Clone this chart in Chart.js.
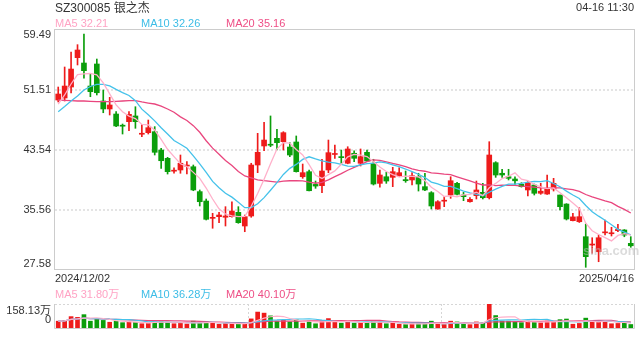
<!DOCTYPE html>
<html><head><meta charset="utf-8">
<script src="https://cdn.jsdelivr.net/npm/chart.js@4.4.0/dist/chart.umd.min.js"></script>
<style>
html,body{margin:0;padding:0;background:#fff;width:640px;height:360px;overflow:hidden;font-family:"Liberation Sans",Arial,"Noto Sans CJK SC",sans-serif;}
#wrap{position:relative;width:640px;height:360px;}
canvas{position:absolute;left:0;top:0;}
.t{position:absolute;white-space:nowrap;font-size:11px;line-height:11px;}
</style></head><body>
<div id="wrap">
<canvas id="main" width="640" height="360" style="width:640px;height:360px"></canvas>
<canvas id="vol" width="640" height="360" style="width:640px;height:360px"></canvas>
<div class="t" style="left:55px;top:2px;font-size:12px;line-height:12px;color:#333;font-family:'Liberation Sans','Noto Sans CJK SC',sans-serif">SZ300085 银之杰</div>
<div class="t" style="right:6px;top:2px;color:#333">04-16 11:30</div>
<div class="t" id="p5" style="left:55px;top:18px;color:#ffa3c4"></div>
<div class="t" id="p10" style="left:141px;top:18px;color:#3dbde6"></div>
<div class="t" id="p20" style="left:226px;top:18px;color:#ee4f86"></div>
<div class="t" id="v5" style="left:55px;top:289px;color:#ffa3c4;font-family:'Liberation Sans','Noto Sans CJK SC',sans-serif"></div>
<div class="t" id="v10" style="left:141px;top:289px;color:#3dbde6;font-family:'Liberation Sans','Noto Sans CJK SC',sans-serif"></div>
<div class="t" id="v20" style="left:226px;top:289px;color:#ee4f86;font-family:'Liberation Sans','Noto Sans CJK SC',sans-serif"></div>
<div class="t" style="left:583px;top:244px;font-size:13px;line-height:13px;font-weight:bold;color:rgba(190,190,190,0.55)">sina.com</div>
</div>
<script>
const dates = [
"2024/12/02","2024/12/03","2024/12/04","2024/12/05","2024/12/06","2024/12/09","2024/12/10","2024/12/11","2024/12/12","2024/12/13",
"2024/12/16","2024/12/17","2024/12/18","2024/12/19","2024/12/20","2024/12/23","2024/12/24","2024/12/25","2024/12/26","2024/12/27",
"2024/12/30","2024/12/31","2025/01/02","2025/01/03","2025/01/06","2025/01/07","2025/01/08","2025/01/09","2025/01/10","2025/01/13",
"2025/01/14","2025/01/15","2025/01/16","2025/01/17","2025/01/20","2025/01/21","2025/01/22","2025/01/23","2025/01/24","2025/01/27",
"2025/02/05","2025/02/06","2025/02/07","2025/02/10","2025/02/11","2025/02/12","2025/02/13","2025/02/14","2025/02/17","2025/02/18",
"2025/02/19","2025/02/20","2025/02/21","2025/02/24","2025/02/25","2025/02/26","2025/02/27","2025/02/28","2025/03/03","2025/03/04",
"2025/03/05","2025/03/06","2025/03/07","2025/03/10","2025/03/11","2025/03/12","2025/03/13","2025/03/14","2025/03/17","2025/03/18",
"2025/03/19","2025/03/20","2025/03/21","2025/03/24","2025/03/25","2025/03/26","2025/03/27","2025/03/28","2025/03/31","2025/04/01",
"2025/04/02","2025/04/03","2025/04/07","2025/04/08","2025/04/09","2025/04/10","2025/04/11","2025/04/14","2025/04/15","2025/04/16"];

const opens = [50.18,50.45,51.91,55.81,55.10,52.04,54.97,50.05,48.99,48.32,
46.78,47.30,48.06,45.63,45.84,45.97,43.53,42.43,40.72,40.88,
41.40,41.31,38.00,36.75,34.45,34.67,34.59,34.67,35.25,33.43,
34.76,41.54,44.07,44.21,45.09,44.64,43.93,44.60,39.98,40.65,
38.96,38.79,40.88,42.94,42.58,41.77,43.10,41.77,43.23,41.77,
39.10,39.98,39.90,40.12,39.60,39.55,39.98,38.66,37.86,35.69,
36.73,37.55,39.10,37.55,36.66,37.46,37.91,37.19,41.85,40.44,
39.98,39.68,38.97,38.22,38.88,37.78,37.68,38.35,37.55,36.35,
34.14,34.00,32.01,30.90,30.01,32.52,32.40,32.81,32.90,31.13];

const highs = [51.91,54.57,56.57,57.54,58.96,53.73,55.63,51.51,50.54,48.63,
46.99,48.63,49.29,46.95,47.52,46.64,43.76,42.56,41.18,42.87,
41.98,41.54,38.22,37.02,35.12,35.25,36.00,36.66,36.00,34.89,
41.77,45.75,47.22,48.06,46.29,45.97,44.51,45.40,41.67,40.88,
39.41,42.30,44.86,44.20,43.53,43.97,43.44,43.67,43.53,42.30,
40.88,40.57,41.23,41.18,40.74,40.52,40.44,40.44,38.00,36.80,
37.33,39.98,39.24,37.90,37.20,39.41,39.10,44.64,41.98,40.97,
40.97,39.98,39.19,39.32,39.01,39.10,40.21,39.77,37.55,36.40,
35.12,35.86,33.70,31.87,32.23,34.23,33.26,33.66,32.95,32.01];

const lows = [49.92,50.05,51.11,54.84,53.07,50.62,50.85,48.49,48.19,46.64,
45.66,46.10,46.42,45.30,45.66,42.87,41.10,40.34,40.44,40.44,
40.34,38.12,36.09,34.23,33.13,33.87,33.43,34.59,33.79,32.67,
34.59,40.52,43.44,43.97,43.53,43.53,42.65,40.60,39.77,38.10,
38.44,37.86,40.52,42.43,41.77,41.70,41.98,41.41,41.98,38.88,
38.58,39.10,38.66,39.98,39.24,38.88,38.08,38.12,35.69,35.65,
36.00,37.11,37.55,36.80,36.60,37.02,37.02,37.02,39.90,39.90,
39.55,38.96,38.60,37.42,37.55,37.64,37.64,38.08,35.56,34.23,
34.10,33.90,27.94,29.80,28.68,32.23,32.10,32.67,32.00,30.60];

const closes = [50.98,52.04,54.30,56.83,54.08,51.29,51.15,48.99,49.52,46.73,
46.70,48.28,47.30,45.65,46.50,43.23,42.11,40.65,40.74,41.77,
41.43,38.22,36.66,34.32,34.48,34.89,34.76,35.42,33.87,34.67,
41.54,43.23,44.86,44.17,44.51,45.84,42.87,40.65,40.52,38.12,
38.74,40.74,43.18,42.98,42.52,43.67,42.43,42.65,42.07,39.01,
40.21,39.41,40.65,40.52,39.45,40.12,39.01,38.22,36.09,36.66,
36.77,39.45,37.64,37.33,36.98,38.22,37.19,42.87,40.21,40.21,
39.77,39.44,38.66,39.19,37.78,38.06,38.35,39.10,36.00,34.36,
34.64,34.67,29.35,30.98,31.87,32.59,32.45,32.98,32.23,30.80];

// volume in 万
const volumes = [45,50,75,70,88,45,60,50,38,45,
35,40,38,28,30,50,45,40,28,30,
26,45,38,40,32,25,30,28,32,28,
60,105,98,80,45,50,40,55,32,45,
28,45,62,40,32,45,32,35,38,50,
38,28,32,25,22,28,30,28,45,28,
22,45,40,25,22,40,36,158.13,82,45,
45,40,35,45,40,35,45,40,55,59.2,
25,30,65,38.8,45,45,28,30,33,23];

// moving-average values before a full window is available
const ma5Head = [49.65,50.85,52.31,53.55];
const ma10Head = [48.63,49.32,50.05,50.71,51.51,51.98,52.27,52.25,52.05];
const ma20Head = [50.18,50.14,50.09,50.05,50.05,50.01,49.96,49.96,49.96,50.01,50.05,50.09,50.09,49.92,49.78,49.65,49.38,48.99,48.55];

const yTicks = [59.49,51.51,43.54,35.56,27.58];

const RED = '#ee1b1b', GREEN = '#0b9e0b';
const C5 = '#ffb0ca', C10 = '#45c2ea', C20 = '#e9467e';

function movingAvg(n, head){
  return closes.map((_, i) => {
    if (i < n - 1) return head[i];
    let s = 0; for (let k = i - n + 1; k <= i; k++) s += closes[k];
    return s / n;
  });
}
function volAvg(n){
  return volumes.map((_, i) => {
    const st = Math.max(0, i - n + 1); let s = 0;
    for (let k = st; k <= i; k++) s += volumes[k];
    return s / (i - st + 1);
  });
}
const ma5 = movingAvg(5, ma5Head), ma10 = movingAvg(10, ma10Head), ma20 = movingAvg(20, ma20Head);
const vma5 = volAvg(5), vma10 = volAvg(10), vma20 = volAvg(20);

const colors = closes.map((c, i) => c >= opens[i] ? RED : GREEN);
const wicks = lows.map((l, i) => [l, highs[i]]);
const bodies = opens.map((o, i) => [o, closes[i]]);

const last = a => a[a.length - 1];
document.getElementById('p5').textContent = 'MA5 ' + last(ma5).toFixed(2);
document.getElementById('p10').textContent = 'MA10 ' + last(ma10).toFixed(2);
document.getElementById('p20').textContent = 'MA20 ' + last(ma20).toFixed(2);
document.getElementById('v5').textContent = 'MA5 ' + last(vma5).toFixed(2) + '万';
document.getElementById('v10').textContent = 'MA10 ' + last(vma10).toFixed(2) + '万';
document.getElementById('v20').textContent = 'MA20 ' + last(vma20).toFixed(2) + '万';

Chart.defaults.font.family = '"Liberation Sans", Arial, sans-serif';
Chart.defaults.font.size = 11;

const FONT = '11px "Liberation Sans", Arial, "Noto Sans CJK SC", sans-serif';

const mainDeco = {
  id: 'mainDeco',
  beforeDatasetsDraw(chart){
    const {ctx, chartArea: a, scales: {y}} = chart;
    ctx.save();
    ctx.strokeStyle = '#e4e4e4'; ctx.lineWidth = 2; ctx.setLineDash([2, 2]);
    yTicks.slice(1, -1).forEach(v => {
      const py = Math.round(y.getPixelForValue(v));
      ctx.beginPath(); ctx.moveTo(a.left, py); ctx.lineTo(a.right, py); ctx.stroke();
    });
    ctx.restore();
  },
  afterDraw(chart){
    const {ctx, chartArea: a, scales: {x, y}} = chart;
    ctx.save();
    ctx.strokeStyle = '#cccccc'; ctx.lineWidth = 1;
    ctx.strokeRect(a.left - 0.5, a.top - 0.5, a.right - a.left + 1, a.bottom - a.top);
    ctx.fillStyle = '#333'; ctx.font = FONT;
    ctx.textAlign = 'right'; ctx.textBaseline = 'middle';
    yTicks.forEach(v => {
      let py = y.getPixelForValue(v);
      py = Math.min(a.bottom - 6.5, Math.max(a.top + 5, py));
      ctx.fillText(v.toFixed(2), 51, py);
    });
    const labs = x.getLabels();
    ctx.textAlign = 'left'; ctx.fillText(labs[0], a.left, 278.5);
    ctx.textAlign = 'right'; ctx.fillText(labs[labs.length - 1], a.right, 278.5);
    ctx.restore();
  }
};

new Chart(document.getElementById('main'), {
  type: 'bar',
  data: {
    labels: dates,
    datasets: [
      {type: 'line', data: ma5, borderColor: C5, borderWidth: 1.3, pointRadius: 0, tension: 0, order: 0},
      {type: 'line', data: ma10, borderColor: C10, borderWidth: 1.3, pointRadius: 0, tension: 0, order: 0},
      {type: 'line', data: ma20, borderColor: C20, borderWidth: 1.3, pointRadius: 0, tension: 0, order: 0},
      {type: 'bar', data: bodies, backgroundColor: colors, barThickness: 5, grouped: false, minBarLength: 1, order: 1},
      {type: 'bar', data: wicks, backgroundColor: colors, barThickness: 1, grouped: false, order: 2}
    ]
  },
  options: {
    responsive: false, animation: false, events: [],
    layout: {padding: {top: 30, right: 6, bottom: 90, left: 55}},
    plugins: {legend: {display: false}, tooltip: {enabled: false}},
    scales: {
      x: {display: false, offset: true},
      y: {display: false, min: last(yTicks), max: yTicks[0]}
    }
  },
  plugins: [mainDeco]
});

const volMax = Math.max(...volumes);
const volDeco = {
  id: 'volDeco',
  beforeDatasetsDraw(chart){
    const {ctx, chartArea: a} = chart;
    ctx.save();
    ctx.strokeStyle = '#d6d6d6'; ctx.lineWidth = 1; ctx.setLineDash([2, 2]);
    ctx.beginPath(); ctx.moveTo(a.left, a.top + 0.5); ctx.lineTo(a.right, a.top + 0.5); ctx.stroke();
    const w = a.right - a.left;
    [1/3, 2/3].forEach(f => {
      const px = Math.round(a.left + w * f) + 0.5;
      ctx.beginPath(); ctx.moveTo(px, a.top); ctx.lineTo(px, a.bottom); ctx.stroke();
    });
    ctx.setLineDash([]); ctx.strokeStyle = '#cccccc';
    ctx.beginPath();
    ctx.moveTo(a.left - 0.5, a.top); ctx.lineTo(a.left - 0.5, a.bottom + 0.5);
    ctx.lineTo(a.right + 0.5, a.bottom + 0.5); ctx.lineTo(a.right + 0.5, a.top);
    ctx.stroke();
    ctx.restore();
  },
  afterDraw(chart){
    const {ctx, chartArea: a, scales: {y}} = chart;
    ctx.save();
    ctx.fillStyle = '#333'; ctx.font = FONT; ctx.textAlign = 'right'; ctx.textBaseline = 'middle';
    [volMax, 0].forEach(v => {
      let py = y.getPixelForValue(v);
      py = Math.min(a.bottom - 8, Math.max(a.top + 7, py));
      ctx.fillText(v === 0 ? '0' : v.toFixed(2) + '万', 51, py);
    });
    ctx.restore();
  }
};

new Chart(document.getElementById('vol'), {
  type: 'bar',
  data: {
    labels: dates,
    datasets: [
      {type: 'line', data: vma5, borderColor: C5, borderWidth: 1.2, pointRadius: 0, tension: 0, order: 0},
      {type: 'line', data: vma10, borderColor: C10, borderWidth: 1.2, pointRadius: 0, tension: 0, order: 0},
      {type: 'line', data: vma20, borderColor: C20, borderWidth: 1.2, pointRadius: 0, tension: 0, order: 0},
      {type: 'bar', data: volumes, backgroundColor: colors, barThickness: 4, order: 1}
    ]
  },
  options: {
    responsive: false, animation: false, events: [],
    layout: {padding: {top: 304, right: 6, bottom: 32, left: 55}},
    plugins: {legend: {display: false}, tooltip: {enabled: false}},
    scales: {
      x: {display: false, offset: true},
      y: {display: false, min: 0, max: volMax}
    }
  },
  plugins: [volDeco]
});
</script>
</body></html>
